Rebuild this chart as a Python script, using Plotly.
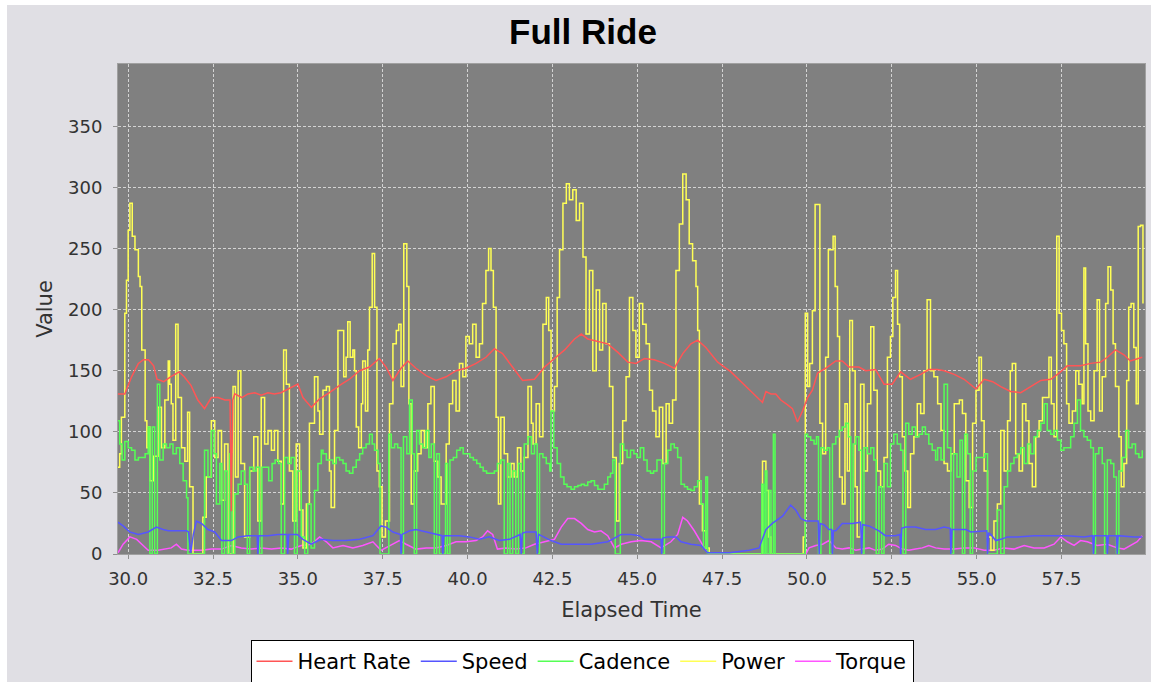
import plotly.graph_objects as go

# ---------------- data ----------------
series_names = ["Heart Rate", "Speed", "Cadence", "Power", "Torque"]
series_colors = ["#FF5555", "#5555FF", "#55FF55", "#FFFF55", "#FF55FF"]
series_shapes = ["linear", "linear", "hv", "hv", "linear"]

x_ticks = [30.0, 32.5, 35.0, 37.5, 40.0, 42.5, 45.0, 47.5, 50.0, 52.5, 55.0, 57.5]
y_ticks = [0, 50, 100, 150, 200, 250, 300, 350]

heart_rate = [(29.7, 131), (29.9, 131), (30.1, 145), (30.3, 156), (30.45, 159), (30.6, 159), (30.75, 154), (30.85, 143),
    (31.05, 141), (31.25, 145), (31.5, 149), (31.65, 145), (31.85, 138), (32.05, 126), (32.25, 119), (32.45, 128),
    (32.65, 128), (32.85, 126), (33.0, 126), (33.04, 35), (33.08, 126), (33.14, 131), (33.35, 128), (33.53, 131),
    (33.73, 132), (33.92, 130), (34.12, 132), (34.31, 131), (34.5, 132), (34.7, 135), (35.0, 139), (35.15, 128),
    (35.4, 120), (35.64, 127), (35.93, 132), (36.23, 138), (36.52, 143), (36.82, 150), (37.11, 153), (37.4, 160),
    (37.6, 153), (37.8, 142), (38.04, 152), (38.24, 158), (38.48, 152), (38.78, 146), (39.07, 142), (39.37, 145),
    (39.66, 150), (39.95, 152), (40.25, 156), (40.54, 161), (40.79, 168), (41.03, 164), (41.33, 153), (41.62, 142),
    (41.97, 143), (42.27, 153), (42.56, 160), (42.86, 167), (43.15, 176), (43.35, 180), (43.54, 176), (43.84, 174),
    (44.13, 172), (44.43, 165), (44.72, 157), (44.96, 156), (45.21, 160), (45.5, 159), (45.8, 156), (46.09, 152),
    (46.34, 164), (46.58, 172), (46.78, 175), (47.02, 169), (47.37, 157), (47.76, 149), (48.2, 137), (48.69, 124),
    (48.79, 133), (48.94, 131), (49.08, 131), (49.23, 126), (49.43, 122), (49.57, 119), (49.72, 108), (49.87, 117),
    (50.02, 128), (50.16, 134), (50.31, 148), (50.55, 152), (50.85, 158), (51.04, 158), (51.24, 153), (51.53, 153),
    (51.73, 150), (52.02, 151), (52.27, 139), (52.51, 139), (52.76, 149), (53.05, 143), (53.35, 147), (53.59, 151),
    (53.84, 151), (54.04, 150), (54.34, 147), (54.63, 143), (54.98, 135), (55.22, 143), (55.47, 141), (55.71, 137),
    (56.0, 133), (56.3, 132), (56.59, 137), (56.89, 142), (57.18, 143), (57.43, 148), (57.67, 154), (58.06, 154),
    (58.36, 156), (58.65, 157), (58.85, 161), (59.09, 167), (59.34, 163), (59.53, 158), (59.88, 161)]

speed = [(29.7, 26), (29.85, 23), (30.05, 18), (30.3, 16), (30.59, 18), (30.83, 22), (31.03, 20), (31.18, 19),
    (31.42, 19), (31.72, 19), (31.78, 18), (31.84, 1), (31.92, 16), (32.01, 27), (32.16, 25), (32.35, 20),
    (32.55, 18), (32.75, 11), (33.04, 11), (33.24, 14), (33.53, 15), (33.8, 15), (33.82, 0), (33.85, 15),
    (34.12, 15), (34.41, 16), (34.68, 16), (34.7, 0), (34.73, 16), (34.98, 16), (35.15, 12), (35.39, 8),
    (35.69, 12), (36.03, 11), (36.42, 11), (36.82, 12), (37.21, 15), (37.45, 23), (37.6, 22), (37.8, 18),
    (38.02, 16), (38.04, 0), (38.07, 16), (38.29, 19), (38.48, 20), (38.78, 18), (39.07, 16), (39.25, 15),
    (39.27, 0), (39.3, 15), (39.41, 15), (39.76, 15), (40.05, 14), (40.35, 12), (40.64, 14), (40.93, 11),
    (41.23, 12), (41.55, 16), (41.58, 0), (41.61, 17), (41.72, 18), (42.02, 18), (42.05, 0), (42.09, 16),
    (42.17, 15), (42.46, 11), (42.76, 8), (43.15, 8), (43.64, 8), (44.13, 10), (44.38, 14), (44.53, 16),
    (44.82, 16), (45.06, 15), (45.21, 12), (45.5, 12), (45.7, 12), (45.72, 0), (45.75, 13), (45.9, 14),
    (46.14, 14), (46.29, 10), (46.58, 8), (46.88, 7), (47.07, 1), (47.71, 1), (48.3, 3), (48.59, 5),
    (48.79, 20), (48.98, 25), (49.28, 31), (49.52, 40), (49.67, 36), (49.82, 29), (49.97, 27), (50.33, 27),
    (50.36, 0), (50.39, 25), (50.5, 24), (50.65, 20), (50.73, 20), (50.75, 0), (50.78, 19), (50.85, 19),
    (51.04, 25), (51.34, 25), (51.58, 26), (51.61, 0), (51.64, 24), (51.83, 23), (52.12, 19), (52.31, 15),
    (52.61, 15), (52.74, 16), (52.76, 0), (52.79, 21), (52.91, 22), (53.2, 22), (53.49, 20), (53.79, 20),
    (54.04, 22), (54.22, 21), (54.24, 0), (54.27, 20), (54.34, 20), (54.68, 20), (54.83, 18), (55.22, 19),
    (55.3, 19), (55.32, 0), (55.35, 17), (55.42, 16), (55.56, 11), (55.71, 12), (55.91, 14), (56.2, 14),
    (56.69, 15), (57.18, 15), (57.67, 15), (58.16, 14), (58.42, 15), (58.44, 0), (58.47, 15), (58.83, 15),
    (58.85, 0), (58.88, 15), (59.12, 15), (59.14, 0), (59.17, 15), (59.63, 14), (59.88, 14)]

cadence = [(29.7, 109), (29.75, 90), (29.82, 77), (29.9, 92), (30.0, 87), (30.1, 85), (30.2, 77), (30.3, 79),
    (30.4, 79), (30.5, 82), (30.59, 104), (30.64, 0), (30.71, 104), (30.78, 0), (30.86, 139), (30.93, 77),
    (31.03, 90), (31.13, 87), (31.23, 90), (31.32, 82), (31.42, 87), (31.52, 74), (31.62, 60), (31.72, 46),
    (31.76, 0), (31.91, 0), (32.06, 0), (32.18, 0), (32.25, 85), (32.35, 63), (32.45, 101), (32.53, 82),
    (32.6, 41), (32.7, 74), (32.76, 0), (32.84, 68), (32.92, 0), (32.99, 82), (33.06, 0), (33.14, 49),
    (33.24, 57), (33.33, 68), (33.43, 57), (33.51, 0), (33.58, 71), (33.68, 68), (33.77, 71), (33.87, 0),
    (33.94, 71), (34.04, 71), (34.14, 60), (34.24, 74), (34.33, 77), (34.43, 74), (34.51, 0), (34.61, 79),
    (34.71, 74), (34.8, 79), (34.9, 0), (34.98, 68), (35.1, 14), (35.2, 0), (35.29, 41), (35.39, 5),
    (35.49, 52), (35.59, 74), (35.69, 85), (35.74, 82), (35.84, 77), (35.93, 77), (36.03, 74), (36.13, 79),
    (36.23, 77), (36.33, 74), (36.42, 68), (36.52, 66), (36.62, 71), (36.72, 77), (36.82, 82), (36.91, 87),
    (37.01, 90), (37.11, 98), (37.19, 90), (37.26, 85), (37.36, 74), (37.42, 0), (37.5, 0), (37.6, 0),
    (37.68, 98), (37.75, 87), (37.85, 90), (37.94, 87), (38.04, 0), (38.11, 96), (38.21, 82), (38.29, 126),
    (38.37, 82), (38.43, 0), (38.5, 101), (38.58, 90), (38.68, 87), (38.78, 101), (38.86, 79), (38.93, 90),
    (39.02, 0), (39.09, 82), (39.17, 0), (39.27, 0), (39.35, 74), (39.41, 0), (39.48, 77), (39.58, 79),
    (39.68, 85), (39.78, 87), (39.87, 82), (39.97, 82), (40.07, 79), (40.17, 77), (40.27, 74), (40.37, 71),
    (40.46, 68), (40.56, 66), (40.69, 66), (40.79, 68), (40.88, 74), (40.98, 77), (41.08, 0), (41.18, 74),
    (41.25, 0), (41.33, 68), (41.42, 0), (41.5, 74), (41.58, 0), (41.67, 90), (41.78, 96), (41.88, 82),
    (41.97, 90), (42.05, 0), (42.12, 82), (42.22, 79), (42.32, 74), (42.42, 68), (42.46, 117), (42.54, 87),
    (42.64, 74), (42.74, 63), (42.84, 57), (42.93, 55), (43.05, 53), (43.15, 55), (43.25, 56), (43.35, 57),
    (43.44, 56), (43.54, 59), (43.64, 60), (43.74, 56), (43.84, 53), (43.93, 53), (44.03, 57), (44.13, 63),
    (44.21, 66), (44.28, 77), (44.35, 0), (44.43, 0), (44.5, 90), (44.6, 85), (44.7, 79), (44.8, 85),
    (44.9, 82), (44.99, 79), (45.09, 87), (45.19, 77), (45.29, 68), (45.39, 66), (45.48, 68), (45.58, 77),
    (45.65, 77), (45.72, 0), (45.8, 74), (45.9, 85), (45.99, 90), (46.09, 87), (46.19, 79), (46.29, 57),
    (46.39, 55), (46.48, 53), (46.58, 52), (46.68, 55), (46.78, 60), (46.88, 41), (46.95, 5), (47.02, 63),
    (47.07, 0), (47.5, 0), (48.0, 0), (48.64, 0), (48.67, 57), (48.72, 0), (48.77, 68), (48.82, 0),
    (48.89, 52), (48.94, 0), (49.01, 98), (49.06, 0), (49.5, 0), (49.92, 0), (49.95, 98), (50.02, 96),
    (50.11, 93), (50.21, 90), (50.28, 96), (50.34, 0), (50.41, 87), (50.5, 85), (50.6, 87), (50.67, 0),
    (50.75, 90), (50.85, 96), (50.95, 101), (51.04, 104), (51.14, 107), (51.22, 96), (51.29, 0), (51.36, 90),
    (51.44, 96), (51.53, 85), (51.61, 0), (51.68, 87), (51.78, 82), (51.88, 87), (51.97, 77), (52.04, 0),
    (52.12, 55), (52.2, 0), (52.27, 74), (52.37, 55), (52.46, 90), (52.56, 98), (52.66, 90), (52.76, 85),
    (52.83, 0), (52.91, 107), (53.0, 98), (53.1, 104), (53.2, 96), (53.3, 98), (53.4, 104), (53.49, 98),
    (53.59, 90), (53.69, 85), (53.79, 77), (53.85, 87), (53.95, 77), (54.04, 139), (54.14, 87), (54.24, 0),
    (54.32, 82), (54.42, 63), (54.51, 93), (54.58, 0), (54.65, 98), (54.73, 82), (54.81, 0), (54.88, 68),
    (54.98, 79), (55.07, 79), (55.17, 79), (55.24, 82), (55.32, 0), (55.42, 0), (55.51, 0), (55.61, 36),
    (55.71, 0), (55.81, 55), (55.91, 68), (56.0, 74), (56.1, 79), (56.2, 82), (56.3, 87), (56.4, 74),
    (56.5, 90), (56.59, 82), (56.69, 96), (56.79, 101), (56.89, 107), (56.99, 123), (57.08, 101), (57.18, 98),
    (57.28, 101), (57.38, 93), (57.48, 85), (57.57, 87), (57.67, 87), (57.77, 96), (57.87, 107), (57.97, 126),
    (58.06, 101), (58.16, 96), (58.26, 93), (58.36, 87), (58.44, 0), (58.5, 82), (58.6, 87), (58.7, 74),
    (58.77, 0), (58.85, 77), (58.95, 74), (59.04, 63), (59.12, 0), (59.19, 68), (59.29, 79), (59.39, 101),
    (59.48, 87), (59.58, 90), (59.68, 82), (59.78, 79), (59.88, 85)]

power = [(29.7, 71), (29.75, 82), (29.8, 112), (29.9, 197), (29.95, 224), (30.0, 265), (30.05, 287), (30.12, 260),
    (30.2, 249), (30.3, 227), (30.35, 219), (30.4, 167), (30.5, 109), (30.55, 87), (30.6, 104), (30.64, 60),
    (30.75, 80), (30.88, 120), (30.98, 87), (31.08, 126), (31.18, 158), (31.22, 139), (31.27, 123), (31.32, 93),
    (31.4, 188), (31.47, 128), (31.57, 87), (31.67, 76), (31.75, 116), (31.81, 55), (31.91, 0), (32.06, 0),
    (32.2, 30), (32.3, 63), (32.45, 109), (32.55, 79), (32.65, 101), (32.75, 44), (32.84, 90), (32.94, 0),
    (33.09, 137), (33.16, 63), (33.24, 150), (33.32, 74), (33.43, 14), (33.58, 68), (33.7, 96), (33.82, 27),
    (33.92, 128), (34.02, 90), (34.12, 101), (34.22, 85), (34.31, 101), (34.41, 76), (34.51, 41), (34.58, 167),
    (34.66, 139), (34.75, 68), (34.85, 27), (34.95, 90), (35.05, 36), (35.15, 5), (35.25, 41), (35.34, 107),
    (35.49, 145), (35.59, 117), (35.64, 98), (35.74, 134), (35.84, 137), (35.93, 68), (35.98, 38), (36.08, 101),
    (36.18, 183), (36.28, 183), (36.35, 145), (36.42, 161), (36.47, 190), (36.54, 161), (36.62, 167), (36.67, 150),
    (36.72, 104), (36.79, 87), (36.87, 123), (36.91, 158), (36.99, 117), (37.06, 167), (37.11, 202), (37.19, 246),
    (37.26, 202), (37.33, 68), (37.4, 55), (37.48, 14), (37.58, 27), (37.7, 123), (37.8, 172), (37.9, 183),
    (37.97, 188), (38.04, 137), (38.12, 254), (38.21, 219), (38.27, 123), (38.34, 41), (38.43, 68), (38.53, 82),
    (38.63, 101), (38.73, 87), (38.83, 123), (38.92, 137), (39.02, 76), (39.12, 63), (39.22, 41), (39.37, 90),
    (39.46, 123), (39.56, 142), (39.66, 117), (39.76, 156), (39.86, 145), (39.95, 178), (40.05, 172), (40.15, 188),
    (40.25, 161), (40.35, 172), (40.44, 205), (40.54, 232), (40.62, 250), (40.69, 232), (40.76, 202), (40.84, 112),
    (40.91, 41), (40.98, 112), (41.08, 82), (41.18, 63), (41.28, 74), (41.37, 63), (41.47, 87), (41.57, 68),
    (41.67, 79), (41.78, 137), (41.88, 107), (41.93, 90), (42.02, 123), (42.12, 96), (42.22, 188), (42.32, 210),
    (42.39, 183), (42.46, 117), (42.56, 137), (42.64, 210), (42.71, 249), (42.81, 287), (42.91, 303), (43.0, 290),
    (43.1, 298), (43.2, 273), (43.3, 287), (43.4, 243), (43.49, 180), (43.59, 232), (43.69, 150), (43.79, 216),
    (43.89, 167), (43.98, 205), (44.08, 172), (44.18, 137), (44.28, 79), (44.38, 27), (44.47, 74), (44.57, 109),
    (44.67, 145), (44.77, 210), (44.87, 183), (44.96, 161), (45.06, 205), (45.16, 188), (45.26, 172), (45.36, 134),
    (45.45, 117), (45.55, 96), (45.65, 120), (45.75, 74), (45.85, 123), (45.94, 107), (46.04, 126), (46.14, 232),
    (46.24, 270), (46.34, 311), (46.44, 290), (46.53, 254), (46.63, 240), (46.73, 219), (46.78, 183), (46.83, 41),
    (46.92, 19), (47.02, 5), (47.12, 0), (47.5, 0), (48.0, 0), (48.64, 0), (48.69, 76), (48.79, 52),
    (48.87, 14), (48.94, 0), (49.4, 0), (49.87, 0), (49.89, 14), (49.95, 197), (50.02, 137), (50.08, 156),
    (50.16, 199), (50.24, 286), (50.32, 286), (50.38, 107), (50.46, 82), (50.55, 161), (50.63, 249), (50.71, 249),
    (50.77, 260), (50.83, 219), (50.9, 178), (50.96, 63), (51.04, 41), (51.12, 123), (51.19, 68), (51.26, 191),
    (51.34, 150), (51.42, 55), (51.48, 14), (51.58, 139), (51.68, 68), (51.78, 123), (51.88, 186), (51.97, 134),
    (52.07, 68), (52.17, 55), (52.27, 79), (52.37, 161), (52.46, 178), (52.53, 210), (52.61, 232), (52.67, 188),
    (52.73, 145), (52.81, 96), (52.89, 68), (52.97, 38), (53.05, 82), (53.15, 96), (53.25, 123), (53.35, 115),
    (53.45, 150), (53.54, 208), (53.64, 150), (53.74, 145), (53.85, 123), (53.95, 101), (54.04, 74), (54.14, 68),
    (54.24, 82), (54.34, 123), (54.49, 126), (54.58, 115), (54.68, 60), (54.78, 38), (54.88, 107), (54.98, 134),
    (55.07, 161), (55.14, 109), (55.22, 68), (55.32, 14), (55.42, 3), (55.51, 27), (55.61, 41), (55.71, 101),
    (55.81, 68), (55.91, 109), (55.99, 150), (56.05, 156), (56.15, 82), (56.25, 68), (56.35, 123), (56.45, 109),
    (56.54, 74), (56.64, 55), (56.74, 96), (56.84, 109), (56.94, 128), (57.03, 128), (57.13, 161), (57.2, 123),
    (57.28, 96), (57.36, 260), (57.43, 197), (57.5, 183), (57.57, 172), (57.65, 123), (57.72, 107), (57.82, 117),
    (57.92, 150), (58.01, 139), (58.11, 123), (58.16, 234), (58.21, 172), (58.28, 117), (58.36, 109), (58.46, 150),
    (58.55, 208), (58.62, 117), (58.7, 145), (58.8, 205), (58.87, 235), (58.95, 216), (59.02, 172), (59.09, 137),
    (59.19, 96), (59.26, 55), (59.34, 74), (59.42, 142), (59.48, 202), (59.55, 205), (59.63, 169), (59.7, 123),
    (59.76, 268), (59.83, 269), (59.9, 205)]

torque = [(29.7, 1), (29.85, 8), (30.05, 14), (30.25, 12), (30.44, 7), (30.59, 3), (30.88, 3), (31.08, 4),
    (31.27, 5), (31.42, 8), (31.57, 4), (31.76, 3), (32.16, 3), (32.45, 4), (32.75, 4), (33.04, 7),
    (33.33, 5), (33.63, 4), (33.92, 5), (34.22, 4), (34.51, 5), (34.8, 4), (35.1, 7), (35.39, 8),
    (35.64, 14), (35.84, 10), (36.03, 5), (36.33, 7), (36.62, 5), (36.91, 7), (37.21, 10), (37.45, 3),
    (37.7, 7), (37.99, 11), (38.19, 8), (38.48, 4), (38.78, 5), (39.07, 5), (39.37, 7), (39.66, 10),
    (39.95, 10), (40.25, 11), (40.44, 14), (40.59, 19), (40.74, 16), (40.88, 4), (41.13, 5), (41.42, 4),
    (41.72, 5), (41.97, 8), (42.27, 10), (42.56, 12), (42.76, 22), (42.95, 29), (43.15, 29), (43.35, 25),
    (43.54, 20), (43.74, 18), (43.93, 19), (44.13, 15), (44.33, 5), (44.53, 8), (44.82, 10), (45.11, 11),
    (45.41, 10), (45.7, 5), (45.99, 10), (46.19, 16), (46.34, 30), (46.48, 27), (46.68, 19), (46.88, 10),
    (47.02, 3), (47.12, 0), (48.5, 0), (49.97, 0), (50.06, 5), (50.26, 7), (50.46, 8), (50.65, 11),
    (50.85, 5), (51.04, 4), (51.24, 5), (51.44, 3), (51.63, 4), (51.83, 5), (52.02, 3), (52.22, 4),
    (52.41, 8), (52.61, 7), (52.81, 4), (53.0, 3), (53.2, 4), (53.4, 5), (53.59, 7), (53.79, 5),
    (54.04, 4), (54.34, 4), (54.63, 5), (54.93, 5), (55.22, 3), (55.51, 3), (55.81, 5), (56.1, 4),
    (56.4, 7), (56.69, 5), (56.99, 5), (57.28, 8), (57.48, 14), (57.67, 10), (57.87, 7), (58.06, 11),
    (58.26, 10), (58.55, 7), (58.85, 8), (59.14, 5), (59.34, 4), (59.53, 7), (59.73, 10), (59.88, 15)]

series_data = [heart_rate, speed, cadence, power, torque]

# ---------------- figure ----------------
W, H = 1158, 682
ML, MR, MT, MB = 118, 13, 64, 128
PW, PH = W - ML - MR, H - MT - MB

fig = go.Figure()
# JFreeChart draws series in reverse order: first series ends on top
for idx in reversed(range(len(series_names))):
    pts = series_data[idx]
    fig.add_trace(go.Scatter(
        x=[p[0] for p in pts], y=[p[1] for p in pts],
        mode="lines", name=series_names[idx],
        line=dict(color=series_colors[idx], width=1.5, shape=series_shapes[idx]),
        legendrank=idx + 1,
    ))

TICKFONT = dict(family="DejaVu Sans", size=18, color="#333333")
fig.update_layout(
    width=W, height=H,
    margin=dict(l=ML, r=MR, t=MT, b=MB, pad=0, autoexpand=False),
    paper_bgcolor="#E0DFE4",
    plot_bgcolor="#808080",
    title=dict(text="<b>Full Ride</b>", x=583 / W, xref="container", xanchor="center",
               y=1 - 32 / H, yref="container", yanchor="middle",
               font=dict(family="Liberation Sans", size=35, color="#000000")),
    showlegend=True,
    legend=dict(orientation="h", x=(582 - ML) / PW, xanchor="center",
                y=-(640 - (MT + PH)) / PH, yanchor="top",
                bgcolor="#FFFFFF", bordercolor="#000000", borderwidth=1,
                font=dict(family="DejaVu Sans", size=21, color="#000000"),
                traceorder="normal", itemwidth=36),
    xaxis=dict(range=[29.7, 59.96], tickvals=x_ticks,
               ticktext=[f"{v:.1f}" for v in x_ticks],
               showgrid=True, gridcolor="#D4D4D4", griddash="3px,2px", gridwidth=1,
               zeroline=False, ticks="outside", ticklen=4, tickcolor="#909090",
               tickfont=TICKFONT, ticklabelstandoff=4,
               showline=True, linecolor="#A0A0A0", linewidth=1, mirror=True,
               title=dict(text="Elapsed Time", standoff=14,
                          font=dict(family="DejaVu Sans", size=21, color="#333333"))),
    yaxis=dict(range=[0, 401], tickvals=y_ticks, ticktext=[str(v) for v in y_ticks],
               showgrid=True, gridcolor="#D4D4D4", griddash="3px,2px", gridwidth=1,
               zeroline=False, ticks="outside", ticklen=4, tickcolor="#909090",
               tickfont=TICKFONT, ticklabelstandoff=7,
               showline=True, linecolor="#A0A0A0", linewidth=1, mirror=True,
               title=dict(text="Value", standoff=9,
                          font=dict(family="DejaVu Sans", size=21, color="#333333"))),
)

# thin white frame around the chart (top, left, right)
def px_x(px):
    return (px - ML) / PW

def px_y(py):
    return (MT + PH - py) / PH

for x0, x1, y0, y1 in [(0, W, 0, 5), (0, 7, 0, H), (W - 7, W, 0, H)]:
    fig.add_shape(type="rect", xref="paper", yref="paper",
                  x0=px_x(x0), x1=px_x(x1), y0=px_y(y1), y1=px_y(y0),
                  fillcolor="#FFFFFF", line=dict(width=0), layer="above")

fig.write_html("out.html", config={"displayModeBar": False},
               post_script="document.body.style.margin='0';document.body.style.overflow='hidden';")
